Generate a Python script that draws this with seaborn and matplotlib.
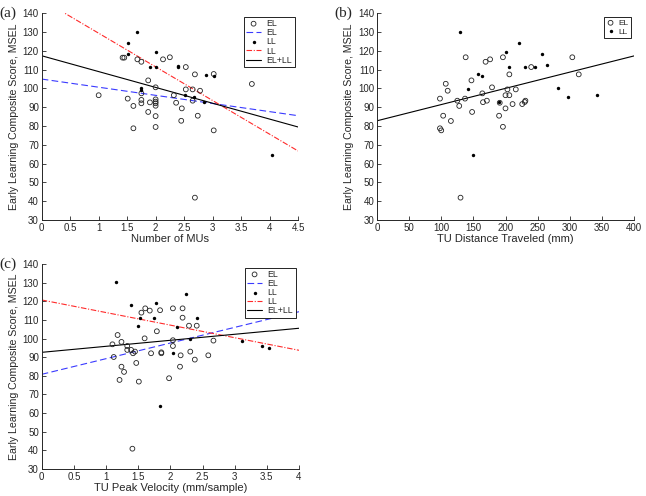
import numpy as np
import matplotlib
matplotlib.use("Agg")
import matplotlib.pyplot as plt
import seaborn as sns
from matplotlib.ticker import MultipleLocator, FuncFormatter

# ---------------- data ----------------
# Panel (a): Number of MUs
a_el_x = [1.0, 1.42, 1.45, 1.68, 1.75, 1.87, 2.0, 2.25, 2.13, 2.53, 2.69, 3.02, 3.69, 1.51,
          1.61, 1.75, 1.75, 1.9, 2.0, 2.0, 2.0, 2.0, 1.87, 2.0, 1.61, 2.0, 2.32, 2.36, 2.53,
          2.65, 2.78, 2.65, 2.46, 2.45, 2.74, 3.02, 2.69, 1.75]
a_el_y = [96.4, 116.4, 116.4, 115.5, 114.2, 104.3, 100.6, 116.6, 115.5, 111.4, 107.5, 107.7,
          102.4, 94.6, 90.7, 93.9, 92.1, 92.6, 94.2, 93.0, 92.1, 90.8, 87.5, 85.3, 78.8, 79.5,
          96.4, 92.4, 99.5, 99.5, 98.8, 93.5, 89.4, 82.8, 85.5, 77.7, 41.9, 97.4]
a_ll_x = [1.68, 1.51, 1.51, 2.01, 1.91, 2.01, 2.39, 2.39, 2.89, 3.02, 1.75, 1.75, 2.51, 2.68,
          2.85, 4.04]
a_ll_y = [130.2, 124.4, 118.5, 119.2, 111.4, 111.4, 112.1, 111.4, 107.3, 106.4, 100.1, 99.2,
          96.5, 95.5, 92.7, 64.8]
a_fit_el = (105.0, -4.33)     # intercept, slope
a_fit_ll = (147.3, -17.9)
a_fit_all = (117.4, -8.42)

# Panel (b): TU Distance Traveled
b_el_x = [138, 169, 176, 196, 240, 304, 314, 206, 147, 107, 110, 98, 125, 137, 128, 103, 115,
          98, 100, 148, 164, 179, 165, 171, 191, 190, 196, 200, 203, 200, 206, 216, 211, 226,
          230, 231, 130]
b_el_y = [116.6, 114.2, 115.5, 116.6, 111.4, 116.6, 107.5, 107.5, 104.3, 102.5, 98.8, 94.6,
          93.5, 94.6, 90.7, 85.5, 82.7, 78.8, 77.7, 87.5, 97.4, 100.6, 92.7, 93.5, 92.4, 85.5,
          79.6, 89.4, 99.5, 96.4, 96.4, 99.5, 91.7, 91.7, 92.8, 93.5, 41.9]
b_ll_x = [129, 221, 201, 257, 264, 205, 231, 246, 157, 164, 142, 190, 282, 298, 342, 149]
b_ll_y = [130.2, 124.4, 119.2, 118.3, 112.3, 111.4, 111.4, 111.4, 107.5, 106.5, 99.5, 92.7,
          100.4, 95.5, 96.5, 64.8]
b_fit_all = (82.8, 0.0863)

# Panel (c): TU Peak Velocity
c_el_x = [1.61, 1.68, 1.84, 2.04, 2.19, 1.55, 2.19, 2.29, 2.41, 1.79, 1.60, 1.18, 1.10, 1.24,
          1.33, 1.33, 1.39, 1.42, 1.45, 1.12, 2.04, 2.04, 2.67, 1.70, 1.86, 1.86, 2.16, 2.31,
          2.38, 2.59, 1.47, 1.24, 1.28, 1.21, 1.51, 1.98, 2.15, 1.41]
c_el_y = [116.2, 115.0, 115.2, 116.2, 116.2, 113.9, 111.2, 106.9, 106.9, 103.9, 100.1, 101.9,
          96.9, 98.2, 96.0, 93.9, 93.9, 92.1, 93.0, 90.1, 99.1, 96.0, 98.9, 92.1, 92.6, 92.1,
          91.0, 93.0, 88.7, 91.0, 86.9, 84.9, 82.1, 77.8, 76.9, 78.7, 84.9, 40.9]
c_ll_x = [1.15, 1.39, 1.78, 2.24, 1.53, 1.74, 2.41, 1.50, 2.10, 2.30, 2.04, 3.12, 3.43, 3.54,
          1.84]
c_ll_y = [130.2, 118.0, 118.9, 124.1, 111.0, 111.0, 111.0, 106.9, 106.0, 99.8, 92.1, 98.9,
          96.0, 94.9, 64.0]
c_fit_el = (80.8, 8.4)
c_fit_ll = (120.7, -6.75)
c_fit_all = (92.6, 3.23)

y_ticks = list(range(30, 141, 10))
y_label = "Early Learning Composite Score, MSEL"

# ---------------- style ----------------
sns.set_style("ticks")
plt.rcParams["font.family"] = ["Liberation Sans", "DejaVu Sans"]
plt.rcParams["xtick.direction"] = "in"
plt.rcParams["ytick.direction"] = "in"
plt.rcParams["axes.linewidth"] = 0.7

BLUE = "#3a3aff"
RED = "#ff2a2a"

fig = plt.figure(figsize=(6.46, 4.96), dpi=100)
W, H = 646, 496


def make_ax(left, top, right, bottom):
    return fig.add_axes([left / W, 1 - bottom / H, (right - left) / W, (bottom - top) / H])


ax_a = make_ax(41.7, 13.3, 298, 220)
ax_b = make_ax(377, 13.3, 634, 220)
ax_c = make_ax(41.7, 264, 299, 469)

fmt = FuncFormatter(lambda v, p: f"{v:g}")


def style_axis(ax, xmax, xstep, xlabel, tag):
    ax.set_xlim(0, xmax)
    ax.set_ylim(30, 140)
    ax.xaxis.set_major_locator(MultipleLocator(xstep))
    ax.xaxis.set_major_formatter(fmt)
    ax.set_yticks(y_ticks)
    ax.tick_params(labelsize=7, length=3, width=0.6, pad=2)
    ax.set_xlabel(xlabel, fontsize=8, labelpad=1)
    ax.set_ylabel(y_label, fontsize=7.6, labelpad=3)
    sns.despine(ax=ax)
    ax.text(-0.165, 1.0, tag, transform=ax.transAxes, fontsize=11,
            family=["Liberation Serif", "DejaVu Serif"], va="center", ha="left")


def scatter_el(ax, x, y, label):
    sns.scatterplot(x=x, y=y, ax=ax, marker="o", s=12, facecolor="none",
                    edgecolor="#222222", linewidth=0.6, label=label, zorder=3)


def scatter_ll(ax, x, y, label):
    sns.scatterplot(x=x, y=y, ax=ax, marker="o", s=6, color="black",
                    edgecolor="black", linewidth=0, label=label, zorder=3)


def fit_line(ax, fit, xmax, color, ls, label):
    xs = np.array([0.0, xmax])
    ys = fit[0] + fit[1] * xs
    sns.lineplot(x=xs, y=ys, ax=ax, color=color, linestyle=ls, linewidth=0.8,
                 label=label, zorder=2)


def legend(ax):
    ax.legend(loc="upper right", fontsize=6.3, frameon=True, fancybox=False,
              edgecolor="black", framealpha=1, borderpad=0.25, labelspacing=0.02,
              handlelength=1.8, handletextpad=0.6, borderaxespad=0.4)
    ax.get_legend().get_frame().set_linewidth(0.6)


# (a)
scatter_el(ax_a, a_el_x, a_el_y, "EL")
fit_line(ax_a, a_fit_el, 4.5, BLUE, (0, (6, 3)), "EL")
scatter_ll(ax_a, a_ll_x, a_ll_y, "LL")
fit_line(ax_a, a_fit_ll, 4.5, RED, (0, (5, 1.5, 1, 1.5)), "LL")
fit_line(ax_a, a_fit_all, 4.5, "black", "-", "EL+LL")
style_axis(ax_a, 4.5, 0.5, "Number of MUs", "(a)")
legend(ax_a)

# (b)
scatter_el(ax_b, b_el_x, b_el_y, "EL")
scatter_ll(ax_b, b_ll_x, b_ll_y, "LL")
fit_line(ax_b, b_fit_all, 400, "black", "-", None)
style_axis(ax_b, 400, 50, "TU Distance Traveled (mm)", "(b)")
ax_b.legend(loc="upper right", fontsize=6, frameon=True, fancybox=False,
            edgecolor="black", framealpha=1, borderpad=0.3, labelspacing=0.1,
            handlelength=1.0, handletextpad=0.4, borderaxespad=0.4)
ax_b.get_legend().get_frame().set_linewidth(0.6)

# (c)
scatter_el(ax_c, c_el_x, c_el_y, "EL")
fit_line(ax_c, c_fit_el, 4, BLUE, (0, (6, 3)), "EL")
scatter_ll(ax_c, c_ll_x, c_ll_y, "LL")
fit_line(ax_c, c_fit_ll, 4, RED, (0, (5, 1.5, 1, 1.5)), "LL")
fit_line(ax_c, c_fit_all, 4, "black", "-", "EL+LL")
style_axis(ax_c, 4, 0.5, "TU Peak Velocity (mm/sample)", "(c)")
legend(ax_c)

fig.savefig("out.png", dpi=100)
